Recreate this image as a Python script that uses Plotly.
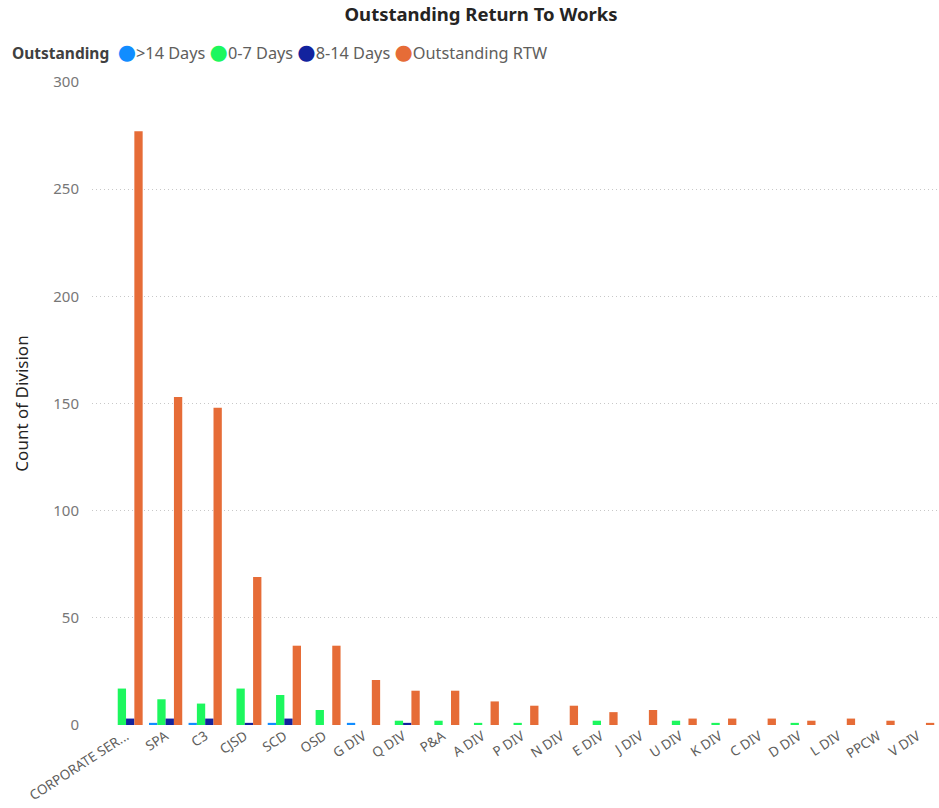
import plotly.graph_objects as go

categories = ["CORPORATE SER...", "SPA", "C3", "CJSD", "SCD", "OSD", "G DIV", "Q DIV", "P&A",
              "A DIV", "P DIV", "N DIV", "E DIV", "J DIV", "U DIV", "K DIV", "C DIV", "D DIV",
              "L DIV", "PPCW", "V DIV"]
over_14_days = [0, 1, 1, 0, 1, 0, 1, 0, 0, 0, 0, 0, 0, 0, 0, 0, 0, 0, 0, 0, 0]
days_0_7 = [17, 12, 10, 17, 14, 7, 0, 2, 2, 1, 1, 0, 2, 0, 2, 1, 0, 1, 0, 0, 0]
days_8_14 = [3, 3, 3, 1, 3, 0, 0, 1, 0, 0, 0, 0, 0, 0, 0, 0, 0, 0, 0, 0, 0]
outstanding_rtw = [277, 153, 148, 69, 37, 37, 21, 16, 16, 11, 9, 9, 6, 7, 3, 3, 3, 2, 3, 2, 1]
y_ticks = [0, 50, 100, 150, 200, 250, 300]

series = [
    (">14 Days", over_14_days, "#118DFF"),
    ("0-7 Days", days_0_7, "#1DF75E"),
    ("8-14 Days", days_8_14, "#12239E"),
    ("Outstanding RTW", outstanding_rtw, "#E66C37"),
]

FONT = "Noto Sans"
W, H = 939, 808
L, T, B = 92, 82, 83
fig = go.Figure()
for name, vals, color in series:
    fig.add_trace(go.Bar(x=categories, y=vals, name=name, marker_color=color,
                         marker_line_width=0, showlegend=False))

# Compact legend drawn as text (Power BI style)
legend_html = "<b><span style='color:#404040;font-size:15.5px'>Outstanding</span></b>  " + "".join(
    f"<span style='color:{c};font-family:DejaVu Sans;font-size:21px'>●</span>{n} "
    for n, _, c in series)
fig.add_annotation(text=legend_html, xref="paper", yref="paper", x=(10 - L) / (W - L), y=1.0,
                   xanchor="left", yanchor="middle", yshift=30, showarrow=False,
                   font=dict(family=FONT, size=16.3, color="#605E5C"), align="left")

fig.update_layout(
    width=W, height=H,
    margin=dict(l=L, r=0, t=T, b=B),
    paper_bgcolor="white", plot_bgcolor="white",
    barmode="group", bargap=0.16, bargroupgap=0,
    font=dict(family=FONT, color="#605E5C"),
    title=dict(text="<b>Outstanding Return To Works</b>", x=481 / W, xanchor="center",
               y=1 - 15 / H, yanchor="middle", pad=dict(t=0, b=0),
               font=dict(family=FONT, size=18.5, color="#252423")),
    xaxis=dict(range=[-0.86, 20.54], tickangle=-33, tickfont=dict(size=13.5, color="#605E5C"),
               showgrid=False, showline=False, zeroline=False, ticks=""),
    yaxis=dict(range=[0, 300], tickvals=y_ticks, showgrid=True, gridcolor="#C8C8C8",
               griddash="1px,3px", gridwidth=1, zeroline=False, showline=False,
               ticks="outside", ticklen=9, tickcolor="rgba(0,0,0,0)",
               tickfont=dict(size=15, color="#777777"),
               title=dict(text="Count of Division", standoff=20,
                          font=dict(family=FONT, size=17, color="#252423"))),
)

fig.write_html("out.html", config={"displayModeBar": False},
               post_script="document.body.style.margin='0';document.body.style.overflow='hidden';")
